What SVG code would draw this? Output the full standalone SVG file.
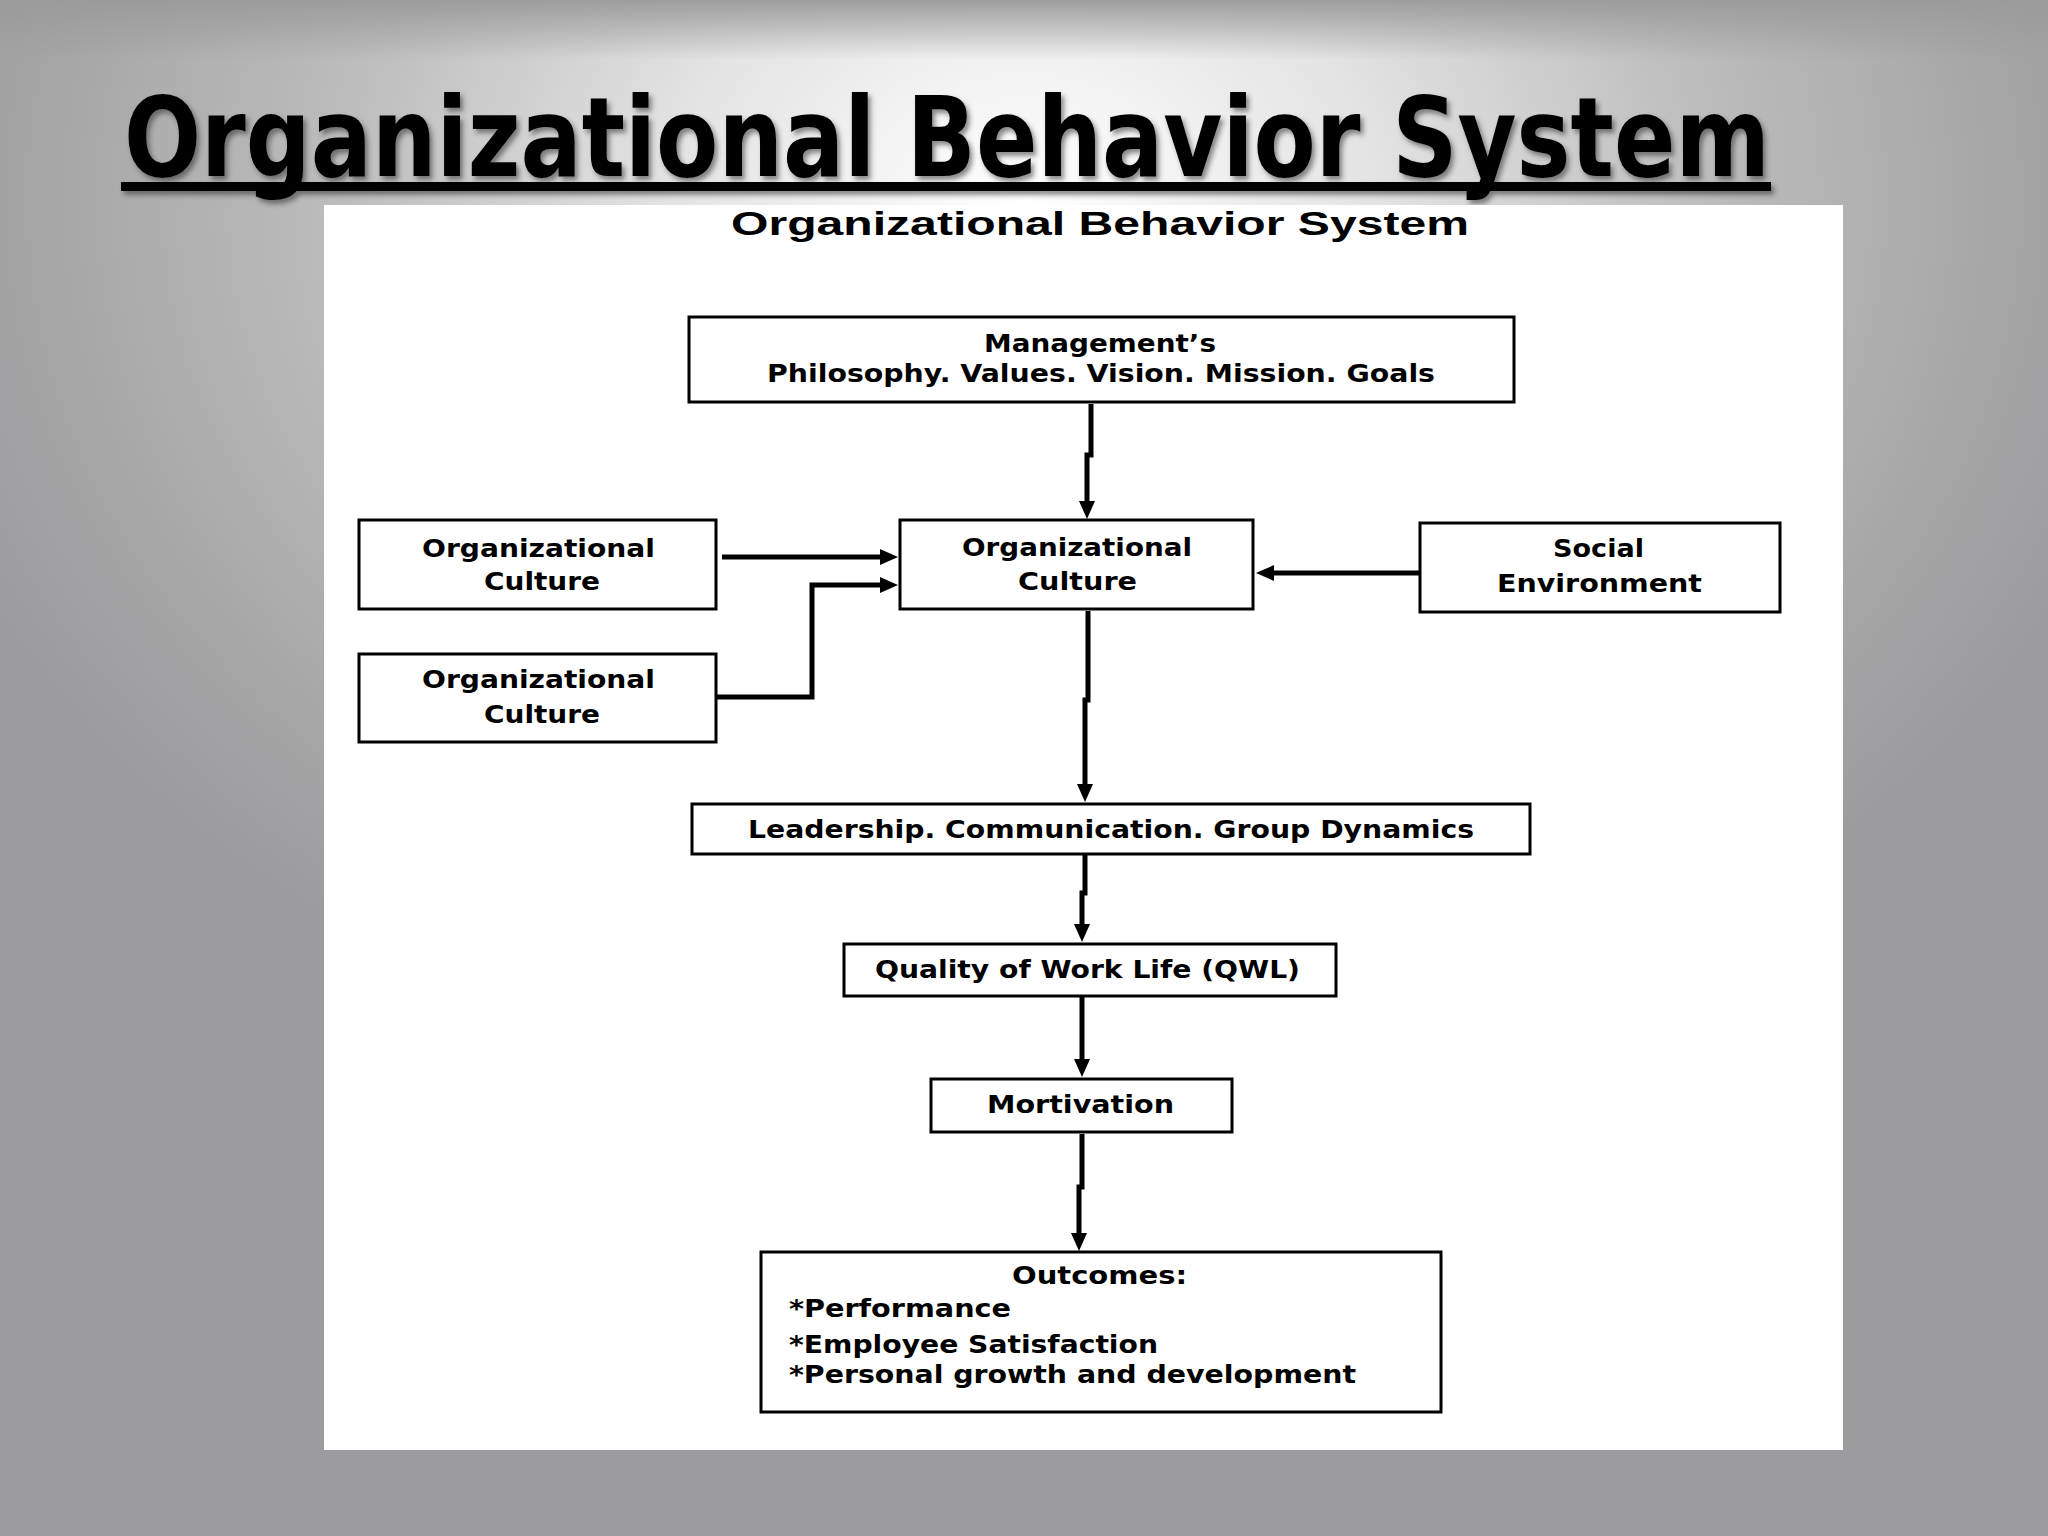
<svg xmlns="http://www.w3.org/2000/svg" width="2048" height="1536" viewBox="0 0 2048 1536">
<defs>
  <radialGradient id="bg" gradientUnits="userSpaceOnUse" cx="1024" cy="200" r="1150" gradientTransform="translate(1024 200) scale(1 0.78) translate(-1024 -200)">
    <stop offset="0" stop-color="#ffffff"/>
    <stop offset="0.3" stop-color="#e4e4e4"/>
    <stop offset="0.6" stop-color="#bcbcbc"/>
    <stop offset="0.85" stop-color="#a6a6a7"/>
    <stop offset="1" stop-color="#9c9b9e"/>
  </radialGradient>
  <linearGradient id="topband" x1="0" y1="0" x2="0" y2="1">
    <stop offset="0" stop-color="#9a9a9a" stop-opacity="0.95"/>
    <stop offset="1" stop-color="#9a9a9a" stop-opacity="0"/>
  </linearGradient>
  <filter id="shadow" filterUnits="userSpaceOnUse" x="80" y="40" width="1760" height="200">
    <feDropShadow dx="3" dy="4" stdDeviation="2.5" flood-color="#333333" flood-opacity="0.55"/>
  </filter>
  <marker id="arrow" markerUnits="userSpaceOnUse" markerWidth="20" markerHeight="18" refX="8" refY="8" orient="auto">
    <path d="M0,0 L18,8 L0,16 z" fill="#000"/>
  </marker>
</defs>
<style>
  .box{fill:#ffffff;stroke:#000000;stroke-width:3}
  .lbl{font-family:"DejaVu Sans","Liberation Sans",sans-serif;font-weight:bold;font-size:24px;fill:#000000}
  .conn{fill:none;stroke:#000000;stroke-width:5;marker-end:url(#arrow)}
</style>

<rect x="0" y="0" width="2048" height="1536" fill="#9c9b9e"/>
<rect x="0" y="0" width="2048" height="1536" fill="url(#bg)"/>
<rect x="0" y="0" width="2048" height="60" fill="url(#topband)"/>

<g id="slide-title" filter="url(#shadow)">
  <text x="124" y="176" font-family="'DejaVu Sans','Liberation Sans',sans-serif" font-weight="bold" font-size="110" fill="#000" textLength="1646" lengthAdjust="spacingAndGlyphs">Organizational Behavior System</text>
  <rect x="121" y="182" width="1650" height="9" fill="#000"/>
</g>

<rect id="panel" x="324" y="205" width="1519" height="1245" fill="#ffffff"/>

<text x="731" y="235" font-family="'Liberation Sans','DejaVu Sans',sans-serif" font-weight="bold" font-size="34" fill="#000" textLength="738" lengthAdjust="spacingAndGlyphs">Organizational Behavior System</text>

<g id="connectors">
  <path class="conn" d="M1091 404 V455 H1087 V509"/>
  <path class="conn" d="M722 557 H888"/>
  <path class="conn" d="M717 697 H812 V585 H888"/>
  <path class="conn" d="M1420 573 H1266"/>
  <path class="conn" d="M1088 611 V700 H1085 V792"/>
  <path class="conn" d="M1085 855 V893 H1082 V932"/>
  <path class="conn" d="M1082 997 V1067"/>
  <path class="conn" d="M1082 1134 V1187 H1079 V1241"/>
</g>

<g id="management">
  <rect class="box" x="689" y="317" width="825" height="85"/>
  <text class="lbl" x="984" y="352" textLength="232" lengthAdjust="spacingAndGlyphs">Management’s</text>
  <text class="lbl" x="767" y="382" textLength="668" lengthAdjust="spacingAndGlyphs">Philosophy. Values. Vision. Mission. Goals</text>
</g>

<g id="org-culture-center">
  <rect class="box" x="900" y="520" width="353" height="89"/>
  <text class="lbl" x="962" y="556" textLength="230" lengthAdjust="spacingAndGlyphs">Organizational</text>
  <text class="lbl" x="1018" y="590" textLength="119" lengthAdjust="spacingAndGlyphs">Culture</text>
</g>

<g id="org-culture-left-1">
  <rect class="box" x="359" y="520" width="357" height="89"/>
  <text class="lbl" x="422" y="557" textLength="233" lengthAdjust="spacingAndGlyphs">Organizational</text>
  <text class="lbl" x="484" y="590" textLength="116" lengthAdjust="spacingAndGlyphs">Culture</text>
</g>

<g id="org-culture-left-2">
  <rect class="box" x="359" y="654" width="357" height="88"/>
  <text class="lbl" x="422" y="688" textLength="233" lengthAdjust="spacingAndGlyphs">Organizational</text>
  <text class="lbl" x="484" y="723" textLength="116" lengthAdjust="spacingAndGlyphs">Culture</text>
</g>

<g id="social-environment">
  <rect class="box" x="1420" y="523" width="360" height="89"/>
  <text class="lbl" x="1553" y="557" textLength="91" lengthAdjust="spacingAndGlyphs">Social</text>
  <text class="lbl" x="1497" y="592" textLength="205" lengthAdjust="spacingAndGlyphs">Environment</text>
</g>

<g id="leadership">
  <rect class="box" x="692" y="804" width="838" height="50"/>
  <text class="lbl" x="748" y="838" textLength="726" lengthAdjust="spacingAndGlyphs">Leadership. Communication. Group Dynamics</text>
</g>

<g id="qwl">
  <rect class="box" x="844" y="944" width="492" height="52"/>
  <text class="lbl" x="875" y="978" textLength="425" lengthAdjust="spacingAndGlyphs">Quality of Work Life (QWL)</text>
</g>

<g id="motivation">
  <rect class="box" x="931" y="1079" width="301" height="53"/>
  <text class="lbl" x="987" y="1113" textLength="187" lengthAdjust="spacingAndGlyphs">Mortivation</text>
</g>

<g id="outcomes">
  <rect class="box" x="761" y="1252" width="680" height="160"/>
  <text class="lbl" x="1012" y="1284" textLength="175" lengthAdjust="spacingAndGlyphs">Outcomes:</text>
  <text class="lbl" x="789" y="1317" textLength="222" lengthAdjust="spacingAndGlyphs">*Performance</text>
  <text class="lbl" x="789" y="1353" textLength="369" lengthAdjust="spacingAndGlyphs">*Employee Satisfaction</text>
  <text class="lbl" x="789" y="1383" textLength="567" lengthAdjust="spacingAndGlyphs">*Personal growth and development</text>
</g>
</svg>
